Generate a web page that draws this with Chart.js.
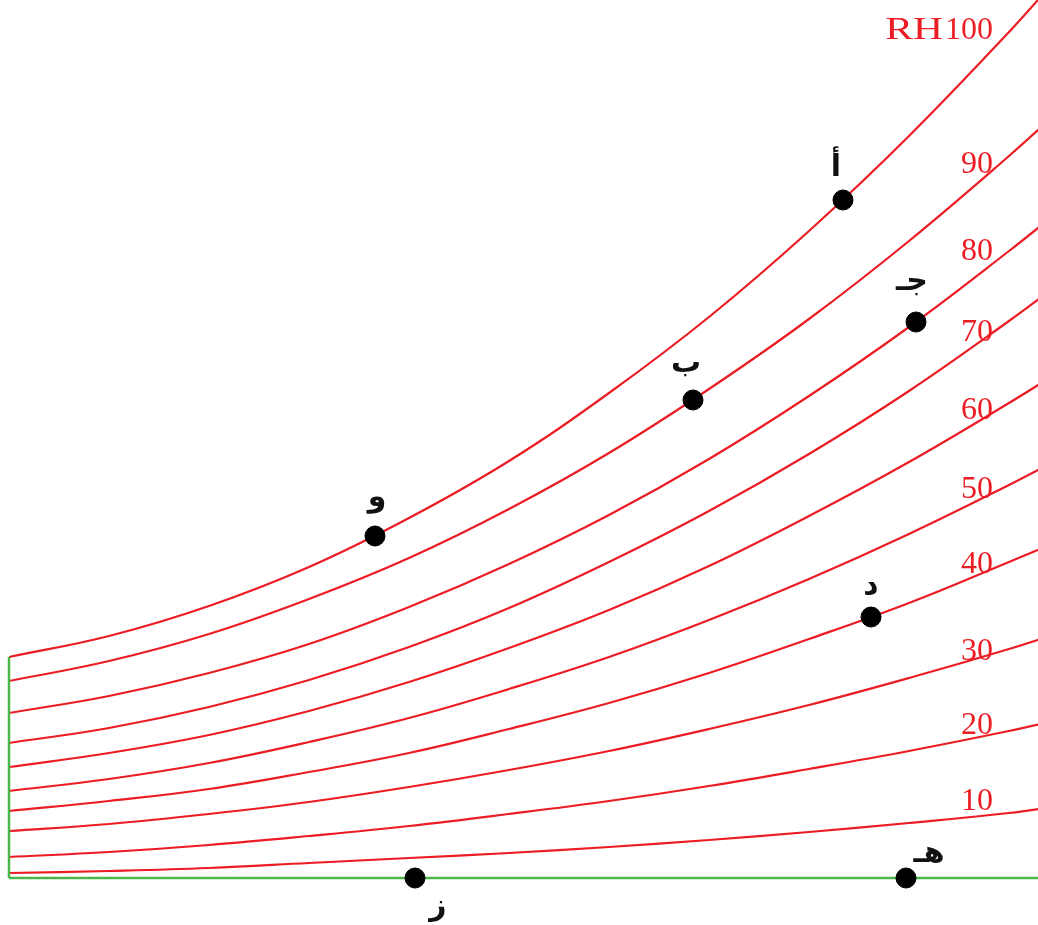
<!DOCTYPE html>
<html>
<head>
<meta charset="utf-8">
<script src="https://cdn.jsdelivr.net/npm/chart.js@4/dist/chart.umd.min.js"></script>
<style>
  html, body { margin: 0; padding: 0; background: #ffffff; }
  #wrap { width: 1038px; height: 925px; position: relative; }
</style>
</head>
<body>
<div id="wrap"><canvas id="chart"></canvas></div>
<script>
// Dry-bulb axis positions (arbitrary units) where each relative-humidity curve is sampled
const xSteps = [0, 10, 20, 30, 40, 50, 60, 70, 80, 90, 100, 105];

// Moisture content along each constant relative-humidity curve
const rh100 = [22.1, 24.2, 27.2, 31.1, 36.0, 41.7, 48.5, 56.1, 64.7, 74.2, 84.6, 90.2];
const rh90  = [19.7, 21.7, 24.4, 27.9, 32.0, 36.9, 42.5, 48.9, 55.9, 63.7, 72.2, 76.7];
const rh80  = [16.5, 18.2, 20.5, 23.4, 27.1, 31.4, 36.3, 41.9, 48.2, 55.1, 62.7, 66.7];
const rh70  = [13.5, 15.0, 17.1, 19.8, 23.1, 27.0, 31.6, 36.7, 42.4, 48.7, 55.7, 59.4];
const rh60  = [11.1, 12.5, 14.3, 16.7, 19.6, 23.0, 26.8, 31.2, 36.2, 41.6, 47.5, 50.6];
const rh50  = [8.7, 9.9, 11.5, 13.6, 16.0, 18.9, 22.1, 25.8, 29.9, 34.4, 39.3, 41.9];
const rh40  = [6.7, 7.7, 8.9, 10.6, 12.5, 14.9, 17.5, 20.5, 23.9, 27.5, 31.6, 33.7];
const rh30  = [4.7, 5.4, 6.4, 7.6, 9.1, 10.8, 12.7, 14.9, 17.3, 20.0, 22.9, 24.5];
const rh20  = [2.1, 2.6, 3.3, 4.2, 5.2, 6.4, 7.7, 9.2, 10.9, 12.7, 14.7, 15.8];
const rh10  = [0.5, 0.7, 1.0, 1.5, 2.0, 2.5, 3.1, 3.8, 4.6, 5.5, 6.5, 7.2];

const rhSeries = [rh100, rh90, rh80, rh70, rh60, rh50, rh40, rh30, rh20, rh10];
const rhNames  = ['RH100', '90', '80', '70', '60', '50', '40', '30', '20', '10'];

// State points marked on the chart
const pointNames = ['أ', 'ب', 'جـ', 'د', 'هـ', 'و', 'ز'];
const pointX     = [83.4, 68.4, 90.7, 86.2, 89.7, 36.6, 40.6];
const pointY     = [67.8, 47.8, 55.6, 26.1, 0, 34.2, 0];

// Where the curve names sit (right edge x, vertical centre y, in axis units)
const rhLabelX = [98.4, 98.4, 98.4, 98.4, 98.4, 98.4, 98.4, 98.4, 98.4, 98.4];
const rhLabelY = [84.7, 71.3, 62.6, 54.5, 46.7, 38.8, 31.3, 22.6, 15.2, 7.6];

// Pixel offsets of each point's letter from its dot
const letterOffsets = [[-7, -32], [-7, -36], [-4, -40], [0, -31], [23, -24], [2, -38], [23, 29]];

const RED = '#ec1c24';
const GREEN = '#4cb648';

const datasets = [];

rhSeries.forEach((vals, i) => {
  datasets.push({
    label: rhNames[i],
    data: xSteps.map((x, j) => ({ x: x, y: vals[j] })),
    borderColor: RED,
    borderWidth: 2.2,
    pointRadius: 0,
    fill: false,
    tension: 0.4,
    order: 3
  });
});

// Dry-bulb base line and the left boundary up to saturation
datasets.push({
  label: 'base',
  data: [{ x: 0, y: 0 }, { x: 105, y: 0 }],
  borderColor: GREEN,
  borderWidth: 2.5,
  pointRadius: 0,
  clip: false,
  order: 2
});
datasets.push({
  label: 'edge',
  data: [{ x: 0, y: 0 }, { x: 0, y: rh100[0] }],
  borderColor: GREEN,
  borderWidth: 2.5,
  pointRadius: 0,
  clip: false,
  order: 2
});

datasets.push({
  label: 'points',
  type: 'scatter',
  data: pointX.map((x, i) => ({ x: x, y: pointY[i] })),
  backgroundColor: '#000000',
  borderColor: '#000000',
  pointRadius: 10,
  pointHoverRadius: 10,
  clip: false,
  order: 0
});

const textPlugin = {
  id: 'chartText',
  afterDatasetsDraw(chart) {
    const ctx = chart.ctx;
    const xs = chart.scales.x, ys = chart.scales.y;
    ctx.save();
    // Curve names
    ctx.fillStyle = RED;
    ctx.textBaseline = 'middle';
    ctx.textAlign = 'right';
    ctx.font = '32px "Liberation Serif", "DejaVu Serif", serif';
    rhNames.forEach((name, i) => {
      const px = xs.getPixelForValue(rhLabelX[i]);
      const py = ys.getPixelForValue(rhLabelY[i]);
      if (name.startsWith('RH')) {
        const num = name.slice(2);
        ctx.fillText(num, px, py);
        const w = ctx.measureText(num).width;
        // the "RH" prefix is set wide
        ctx.save();
        ctx.translate(px - w - 2, py);
        ctx.scale(1.3, 1);
        ctx.fillText('RH', 0, 0);
        ctx.restore();
      } else {
        ctx.fillText(name, px, py);
      }
    });
    // Point letters
    ctx.fillStyle = '#111111';
    ctx.textAlign = 'center';
    ctx.font = 'bold 30px "DejaVu Sans", sans-serif';
    pointNames.forEach((name, i) => {
      const px = xs.getPixelForValue(pointX[i]) + letterOffsets[i][0];
      const py = ys.getPixelForValue(pointY[i]) + letterOffsets[i][1];
      ctx.fillText(name, px, py);
    });
    ctx.restore();
  }
};

new Chart(document.getElementById('chart'), {
  type: 'line',
  data: { datasets: datasets },
  options: {
    responsive: true,
    maintainAspectRatio: false,
    animation: false,
    layout: { autoPadding: false, padding: { left: 9, right: 0, top: 0, bottom: 47 } },
    plugins: { legend: { display: false }, tooltip: { enabled: false } },
    scales: {
      x: { type: 'linear', min: 0, max: 102.9, display: false },
      y: { type: 'linear', min: 0, max: 87.8, display: false }
    }
  },
  plugins: [textPlugin]
});
</script>
</body>
</html>
